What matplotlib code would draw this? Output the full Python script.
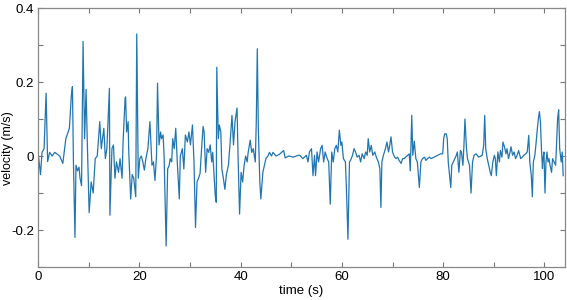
import numpy as np
import matplotlib
matplotlib.use('Agg')
import matplotlib.pyplot as plt

# traced samples of the velocity record: time (s) and velocity (m/s)
t = [0.1, 0.5, 0.8, 1.2, 1.6, 1.9, 2.3, 2.8, 3.3, 3.8, 4.3, 4.9, 5.5, 6.2, 6.6, 6.8,
     7.0, 7.3, 7.5, 7.8, 8.1, 8.3, 8.6, 8.9, 9.2, 9.5, 9.7, 10.1, 10.5, 10.9, 11.3,
     11.7, 12.2, 12.5, 13.0, 13.3, 13.6, 14.1, 14.2, 14.6, 14.9, 15.2, 15.5, 15.9,
     16.2, 16.6, 16.8, 17.2,
     17.3, 17.5, 17.8, 17.9, 18.3, 18.6, 18.9, 19.3, 19.5, 19.8, 20.1, 20.4, 20.7,
     21.0, 21.3, 21.7, 22.1, 22.5, 22.8, 23.1, 23.4, 23.6, 23.9, 24.2, 24.4, 24.7,
     24.9, 25.1, 25.3, 25.6, 25.9, 26.1, 26.4, 26.6, 26.9, 27.2, 27.5, 27.9, 28.1,
     28.5, 28.8, 29.1, 29.5, 29.8, 30.1, 30.5, 30.8, 31.1, 31.4, 31.7, 32.0, 32.3,
     32.6, 32.8, 33.1, 33.4, 33.7, 34.0, 34.3,
     34.5, 35.0, 35.2, 35.3, 35.6, 35.8, 36.1, 36.3, 36.6, 36.9, 37.2, 37.6, 37.9,
     38.3, 38.6, 38.9, 39.3, 39.5, 39.8, 40.1, 40.4, 40.7, 41.0, 41.3, 41.5, 41.9,
     42.2, 42.5, 42.9, 43.1, 43.3, 43.5, 43.8, 44.0, 44.4, 44.7, 45.0, 45.4, 45.7,
     46.1, 46.4, 47.0, 47.7, 48.5, 48.8, 49.5, 50.4, 51.4,
     51.7, 52.3, 53.0, 53.3, 53.6, 54.0, 54.3, 54.6, 54.8, 55.1, 55.4, 55.8, 56.1,
     56.4, 56.7, 57.1, 57.4, 57.7, 58.0, 58.3, 58.6, 58.9, 59.2, 59.5, 59.8, 60.0,
     60.3, 60.7, 60.9, 61.2, 61.5, 61.7, 62.1, 62.4, 62.7, 63.0, 63.4, 63.7, 64.0,
     64.4, 64.7, 65.0, 65.2, 65.5, 65.8, 66.1, 66.5, 66.8, 67.2, 67.5, 67.7, 67.9,
     68.2, 68.6, 68.9,
     69.2, 69.4, 69.7, 70.0, 70.4, 70.7, 71.0, 71.3, 71.7, 72.0, 72.3, 72.6, 73.0,
     73.3, 73.5, 73.8, 74.0, 74.3, 74.6, 74.9, 75.3, 75.6, 75.9, 76.3, 76.6, 76.9,
     77.3, 77.6, 78.2, 78.9, 79.5, 79.9, 80.1, 80.3, 80.6, 80.8, 81.0, 81.2, 81.5,
     81.7, 82.0, 82.3, 82.6, 82.8, 83.1, 83.4, 83.6, 83.9, 84.1, 84.3, 84.6, 84.8,
     85.2, 85.5, 85.8, 86.1, 86.5,
     87.0, 87.7, 88.0, 88.2, 88.4, 88.7, 89.0, 89.3, 89.5, 89.8, 90.1, 90.3, 90.5,
     90.8, 91.1, 91.3, 91.6, 91.8, 92.1, 92.4, 92.6, 92.9, 93.2, 93.4, 93.7, 94.0,
     94.3, 94.6, 94.9, 95.3, 95.6, 95.9, 96.3, 96.6, 96.9, 97.1, 97.4, 97.6, 97.8,
     98.1, 98.3, 98.6, 98.8, 99.0, 99.2, 99.4, 99.6, 99.7, 99.9, 100.1, 100.3,
     100.5, 100.7, 100.9, 101.1, 101.4, 101.6, 101.9, 102.2, 102.4, 102.6, 102.8,
     103.0, 103.3, 103.5, 103.7]

v = [0.0, -0.05, 0.01, 0.02, 0.17, -0.015, 0.01, 0.0, 0.01, 0.005, 0.0, -0.02, 0.047,
     0.075, 0.166, 0.188,
     -0.016, -0.22, -0.025, -0.04, -0.03, -0.06, -0.08, 0.31, 0.047, 0.18, 0.057,
     -0.153, -0.07, -0.1, -0.007,
     0.0, 0.093, 0.02, 0.075, -0.007, 0.02, 0.183, -0.16, 0.02, 0.03, -0.06, -0.016,
     -0.044,
     -0.007, -0.06, 0.038, 0.156,
     0.16, 0.065, 0.093, 0.02, -0.116, -0.05, -0.06, -0.11, 0.33, -0.06, -0.007, 0.0,
     -0.016,
     -0.038, -0.007, 0.02, 0.093, -0.025, -0.016, -0.066, 0.0, 0.197, 0.03, 0.065,
     0.047, 0.057,
     0.0, -0.116, -0.243, -0.035, -0.025, -0.007, -0.016, 0.047, 0.02, 0.075, -0.016,
     -0.116, 0.0,
     0.02, -0.035, 0.057, 0.038, 0.065, 0.03, 0.084, -0.016, -0.193, -0.07, -0.06,
     -0.047, 0.02,
     0.08, 0.065, -0.044, 0.02, 0.01, 0.03, -0.016,
     0.01, -0.107, -0.125, 0.24, 0.047, 0.084, 0.065, -0.035, -0.06, -0.09, -0.05,
     -0.025, 0.03,
     0.11, 0.03, 0.093, 0.13, 0.0, -0.157, -0.044, -0.07, -0.025, 0.0, -0.016, 0.01,
     0.043,
     0.01, 0.02, -0.016, 0.093, 0.29, 0.075, -0.07, -0.116, -0.044, -0.025, -0.007,
     0.0, 0.01,
     0.0, 0.01, 0.0, 0.005, 0.015, -0.005, 0.0, -0.003, 0.002,
     0.002, -0.007, 0.002, -0.016, 0.011, 0.02, -0.053, 0.002, -0.053, 0.011, -0.016,
     0.02, 0.029,
     -0.016, 0.011, -0.007, -0.016, -0.13, 0.011, -0.016, 0.02, 0.029, 0.011, 0.07,
     0.029, 0.038,
     -0.007, -0.016, -0.09, -0.225, -0.016, -0.012, 0.002, 0.02, 0.011, -0.003, 0.002,
     -0.016, 0.006,
     -0.007, 0.011, 0.002, 0.047, 0.011, 0.029, 0.002, 0.011, -0.003, -0.016, -0.034,
     -0.139, -0.016,
     0.002, 0.02, 0.038,
     0.011, 0.025, 0.052, 0.011, -0.003, -0.007, -0.003, -0.012, -0.02, -0.007, -0.007,
     -0.003, 0.002,
     0.006, -0.04, 0.11, 0.002, 0.04, -0.007, -0.016, -0.085, -0.016, -0.007, -0.003,
     -0.012, -0.007,
     -0.003, -0.007, -0.003, 0.002, 0.006, 0.006, 0.047, 0.06, 0.06, 0.047, -0.016,
     -0.044, -0.085,
     -0.025, -0.016, -0.007, 0.002, 0.011, -0.044, 0.015, 0.011, -0.025, 0.029, 0.10,
     0.02, -0.007,
     -0.025, -0.1, -0.016, 0.002, 0.006,
     -0.003, 0.002, 0.029, 0.11, 0.02, -0.007, -0.025, -0.044, -0.053, -0.016, 0.002,
     -0.007, -0.053,
     0.011, -0.016, 0.015, -0.003, 0.038, 0.025, 0.006, 0.02, -0.007, 0.011, 0.025,
     0.002, 0.011,
     -0.007, 0.002, 0.015, -0.007, -0.003, 0.002, 0.006, 0.011, 0.056, -0.016, -0.053,
     -0.11, -0.016,
     0.002, 0.029, 0.075, 0.102, 0.12, 0.093, 0.02, -0.034, -0.007, 0.011, -0.1,
     -0.016,
     0.011, -0.016, -0.007, -0.025, -0.044, -0.007, -0.016, -0.025, 0.038, 0.102,
     0.125,
     0.02, -0.016, 0.011, -0.053]

yticks = [-0.3, -0.2, -0.1, 0, 0.1, 0.2, 0.3, 0.4]
ylabels = ['', '-0.2', '', '0', '', '0.2', '', '0.4']
xticks = [0, 10, 20, 30, 40, 50, 60, 70, 80, 90, 100]
xlabels = ['0', '', '20', '', '40', '', '60', '', '80', '', '100']

plt.rcParams['font.family'] = ['Liberation Sans', 'DejaVu Sans']

fig = plt.figure(figsize=(5.67, 3.0), dpi=100)
ax = fig.add_axes([0.067, 0.11, 0.929, 0.863])
ax.plot(t, v, color='#2176b0', lw=0.9)

ax.set_xlim(0, 104)
ax.set_ylim(-0.3, 0.4)
ax.set_xticks(xticks)
ax.set_xticklabels(xlabels)
ax.set_yticks(yticks)
ax.set_yticklabels(ylabels)
ax.tick_params(direction='in', length=3.5, width=0.8, color='#777777',
               top=True, right=True, labelsize=9.5, pad=3)
for s in ax.spines.values():
    s.set_color('#888888')
    s.set_linewidth(0.9)

ax.set_xlabel('time (s)', fontsize=9.5, labelpad=1)
ax.set_ylabel('velocity (m/s)', fontsize=9)
ax.yaxis.set_label_coords(-0.046, 0.46)

fig.savefig('out.png', dpi=100)
